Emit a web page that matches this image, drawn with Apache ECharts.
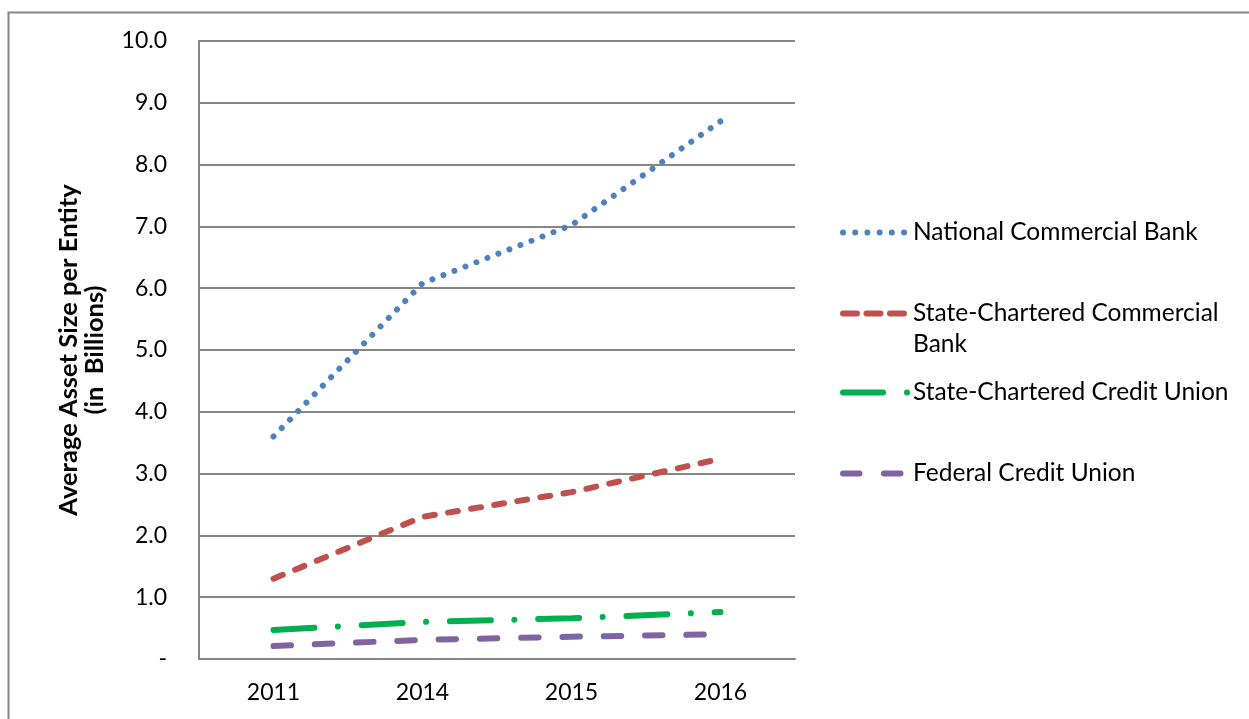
<!DOCTYPE html>
<html>
<head>
<meta charset="utf-8">
<script src="https://cdn.jsdelivr.net/npm/echarts@6/dist/echarts.min.js"></script>
<style>
  html, body { margin: 0; padding: 0; background: #fff; }
  #chart { width: 1249px; height: 719px; }
</style>
</head>
<body>
<div id="chart"></div>
<script>
const years = ['2011', '2014', '2015', '2016']
const nationalBank = [3.6, 6.08, 7.02, 8.7]
const stateBank = [1.3, 2.3, 2.7, 3.24]
const stateCreditUnion = [0.47, 0.6, 0.66, 0.76]
const federalCreditUnion = [0.21, 0.31, 0.36, 0.4]
const seriesNames = [
  'National Commercial Bank',
  'State-Chartered Commercial Bank',
  'State-Chartered Credit Union',
  'Federal Credit Union'
]

const FONT = 'Lato'
const GRAY = '#868686'

const chart = echarts.init(document.getElementById('chart'))

function line(name, data, color, dash) {
  return {
    name: name,
    type: 'line',
    data: data,
    symbol: 'none',
    smooth: false,
    lineStyle: { color: color, width: 6, type: dash, cap: 'round' },
    itemStyle: { color: color }
  }
}

// one legend per item, so each row sits where it does in the picture
function legendAt(name, top, dash, extra) {
  return Object.assign({
    data: [name],
    left: 835,
    top: top,
    orient: 'vertical',
    itemWidth: 65,
    itemHeight: 14,
    selectedMode: false,
    itemStyle: { opacity: 0 }, // hide the circle symbol, keep the line
    lineStyle: { width: 6, type: dash, cap: 'round' },
    textStyle: { fontFamily: FONT, fontSize: 24.5, color: '#000' }
  }, extra || {})
}

const option = {
  backgroundColor: '#fff',
  animation: false,
  graphic: [{
    type: 'rect',
    shape: { x: 8.5, y: 12.5, width: 1300, height: 800 },
    style: { fill: 'none', stroke: GRAY, lineWidth: 2 },
    silent: true
  }],
  grid: { left: 199, right: 454, top: 41, bottom: 60 },
  legend: [
    legendAt(seriesNames[0], 215, [0.01, 12.2]),
    legendAt(seriesNames[1], 262, [14, 9.5], {
      // blank first line keeps the icon level with the first line of text
      formatter: () => ' \nState-Chartered Commercial\nBank',
      textStyle: { fontFamily: FONT, fontSize: 24.5, color: '#000', lineHeight: 31 }
    }),
    legendAt(seriesNames[2], 375, [40, 24, 0.01, 100]),
    legendAt(seriesNames[3], 456, [16.5, 24.5])
  ],
  xAxis: {
    type: 'category',
    data: years,
    boundaryGap: true,
    axisLine: { show: true, lineStyle: { color: GRAY, width: 2 } },
    axisTick: { show: false },
    axisLabel: { color: '#000', fontFamily: FONT, fontSize: 23, margin: 22 },
    splitLine: { show: false }
  },
  yAxis: {
    type: 'value',
    min: 0,
    max: 10,
    interval: 1,
    name: 'Average Asset Size per Entity\n(in  Billions)',
    nameLocation: 'middle',
    nameGap: 91,
    nameRotate: 90,
    nameTextStyle: { fontFamily: FONT, fontSize: 25.5, fontWeight: 'bold', color: '#000', lineHeight: 26 },
    axisLine: { show: true, lineStyle: { color: GRAY, width: 2 } },
    axisTick: { show: false },
    axisLabel: {
      color: '#000',
      fontFamily: FONT,
      fontSize: 23,
      margin: 32,
      formatter: v => (v === 0 ? '-' : v.toFixed(1))
    },
    splitLine: { show: true, lineStyle: { color: GRAY, width: 2 } }
  },
  series: [
    line(seriesNames[0], nationalBank, '#4F81BD', [0.01, 11.8]),
    line(seriesNames[1], stateBank, '#C0504D', [10, 13.4]),
    line(seriesNames[2], stateCreditUnion, '#00B050', [41, 23.5, 0.01, 23.8]),
    line(seriesNames[3], federalCreditUnion, '#8064A2', [17.5, 23.8])
  ]
}

chart.setOption(option)
</script>
</body>
</html>
